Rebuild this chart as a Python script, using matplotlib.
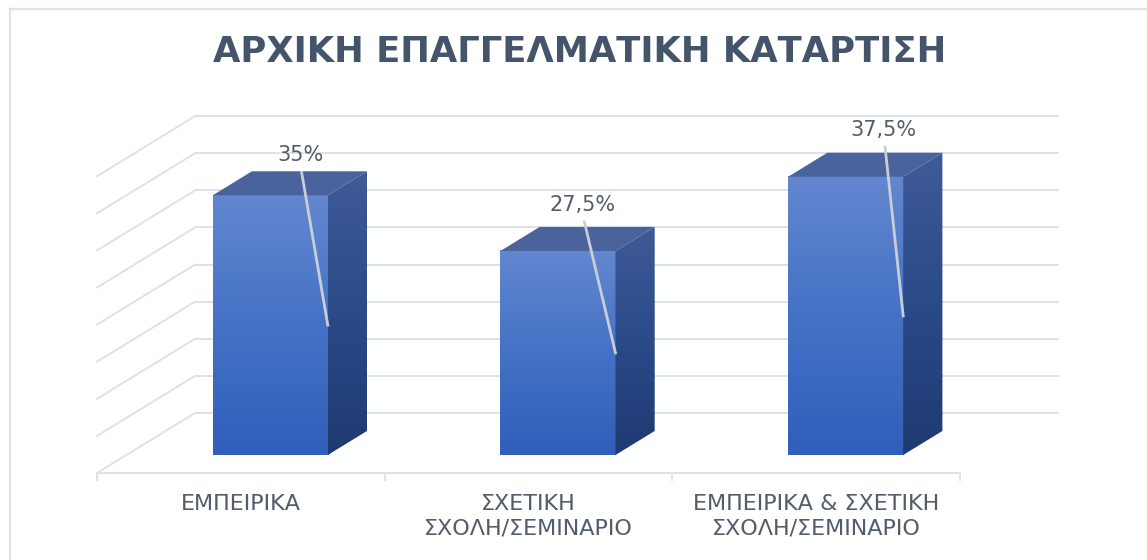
import numpy as np
import matplotlib.pyplot as plt
from matplotlib.patches import Polygon
from matplotlib.lines import Line2D
from matplotlib.colors import LinearSegmentedColormap

# data
categories = ['ΕΜΠΕΙΡΙΚΑ', 'ΣΧΕΤΙΚΗ\nΣΧΟΛΗ/ΣΕΜΙΝΑΡΙΟ', 'ΕΜΠΕΙΡΙΚΑ & ΣΧΕΤΙΚΗ\nΣΧΟΛΗ/ΣΕΜΙΝΑΡΙΟ']
values = [35, 27.5, 37.5]
value_labels = ['35%', '27,5%', '37,5%']
grid_values = [0, 5, 10, 15, 20, 25, 30, 35, 40]
title = 'ΑΡΧΙΚΗ ΕΠΑΓΓΕΛΜΑΤΙΚΗ ΚΑΤΑΡΤΙΣΗ'

# style / 3d projection (depth offset per unit depth, in data units)
DU, DV = 0.3406, 8.09
bar_half = 0.2
z_front, z_back = 0.3, 0.7
label_dx = [0.104, 0.087, 0.132]
label_dy = [5.4, 6.2, 6.3]
grid_col = '#DDE1E8'
text_col = '#525C6B'

front_cmap = LinearSegmentedColormap.from_list('front', ['#6387CF', '#4472C6', '#2F5FBA'])
side_cmap = LinearSegmentedColormap.from_list('side', ['#3F5B98', '#2A4A88', '#1E3A72'])
top_col = '#4B639D'


def P(u, v, z):
    return (u + z * DU, v + z * DV)


fig = plt.figure(figsize=(11.47, 5.6), dpi=100)
ax = fig.add_axes([0, 0, 1, 1])
ax.set_xlim(-0.3372, 3.6496)
ax.set_ylim(-11.725, 63.75)
ax.axis('off')

# chart border (top and left edges only visible)
bx, by = 9.5 / 1147, 1 - 8.5 / 560
fig.lines.append(Line2D([bx, 1.01], [by, by], transform=fig.transFigure, color=grid_col, lw=1.6))
fig.lines.append(Line2D([bx, bx], [-0.01, by], transform=fig.transFigure, color=grid_col, lw=1.6))

# walls gridlines
n = len(categories)
for g in grid_values:
    x0, y0 = P(0, g, 1)
    x1, y1 = P(n, g, 1)
    ax.plot([x0, x1], [y0, y1], color=grid_col, lw=1.4, zorder=1)
    a, b = P(0, g, 0)
    ax.plot([a, x0], [b, y0], color=grid_col, lw=1.4, zorder=1)

# floor front edge + ticks
ax.plot([0, n], [0, 0], color=grid_col, lw=1.4, zorder=1)
for i in range(n + 1):
    ax.plot([i, i], [0, -0.95], color=grid_col, lw=1.4, zorder=1)

grad = np.linspace(0, 1, 256).reshape(-1, 1)

for i, (val, lab) in enumerate(zip(values, value_labels)):
    c = i + 0.5
    l, r = c - bar_half, c + bar_half
    # front face
    fl, fb = P(l, 0, z_front)
    fr, ft = P(r, val, z_front)
    ax.imshow(grad, cmap=front_cmap, extent=(fl, fr, fb, ft), origin='upper',
              aspect='auto', zorder=3)
    # side face
    side = [P(r, 0, z_front), P(r, 0, z_back), P(r, val, z_back), P(r, val, z_front)]
    sp = Polygon(side, closed=True, facecolor='none', edgecolor='none')
    ax.add_patch(sp)
    xs = [p[0] for p in side]
    ys = [p[1] for p in side]
    im = ax.imshow(grad, cmap=side_cmap, extent=(min(xs), max(xs), min(ys), max(ys)),
                   origin='upper', aspect='auto', zorder=3)
    im.set_clip_path(sp)
    # top face
    top = [P(l, val, z_front), P(r, val, z_front), P(r, val, z_back), P(l, val, z_back)]
    ax.add_patch(Polygon(top, closed=True, facecolor=top_col, edgecolor='none', zorder=3))

    # data label and leader line
    lx, ly = P(c + label_dx[i], val + label_dy[i], z_front)
    ax.text(lx, ly, lab, ha='center', va='center', fontsize=15, color=text_col,
            family='DejaVu Sans', zorder=5)
    ex, ey = P(r, val / 2, z_front)
    ax.plot([lx + 0.005, ex], [ly - 2.3, ey], color='#C9CED6', lw=2, zorder=4)

    # category label
    ax.text(c, -2.8, categories[i], ha='center', va='top', fontsize=16, color=text_col,
            family='DejaVu Sans', linespacing=1.3)

fig.text(580 / 1147, 1 - 52 / 560, title, ha='center', va='center', fontsize=25.5,
         fontweight='bold', color='#44546A', family='DejaVu Sans')

fig.savefig('out.png', dpi=100)
